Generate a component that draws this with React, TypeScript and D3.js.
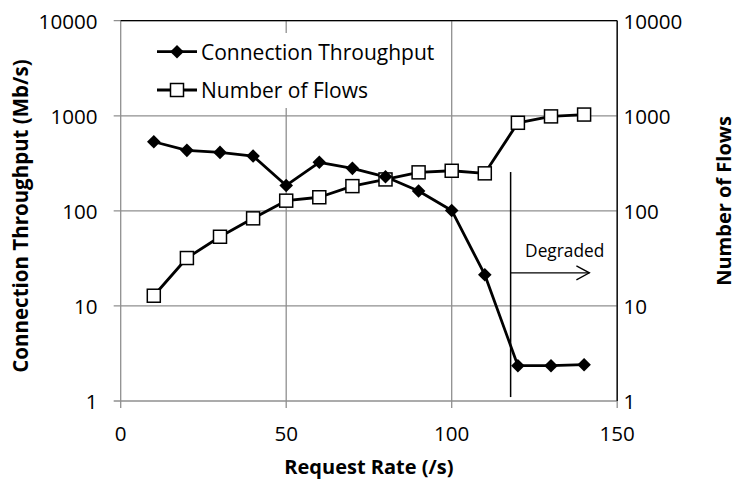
import React from "react";
import * as d3 from "d3";

const requestRate = [10, 20, 30, 40, 50, 60, 70, 80, 90, 100, 110, 120, 130, 140];
const throughput = [533, 433, 412, 377, 185, 324, 280, 228, 162, 101, 21.3, 2.35, 2.35, 2.41];
const numFlows = [12.8, 31.9, 53.4, 83.4, 128, 139, 182, 214, 254, 264, 248, 844, 985, 1030];
const xTicks = [0, 50, 100, 150];
const yTicks = [1, 10, 100, 1000, 10000];
const seriesNames = ["Connection Throughput", "Number of Flows"];
const degradedX = 117.8;
const degradedTop = 256;
const degradedBottom = 1.1;
const arrowEndX = 141.6;
const arrowY = 22.3;

const W = 732;
const H = 479;
const FONT = "'Open Sans', sans-serif";

export default function App() {
  const x = d3.scaleLinear().domain([0, 150]).range([120.7, 617.2]);
  const y = d3.scaleLog().domain([1, 10000]).range([401, 20.7]);
  const [x0, x1] = x.range();
  const [yb, yt] = y.range();

  const line = d3
    .line<number>()
    .x((_, i) => x(requestRate[i]))
    .y((d) => y(d));

  const diamond = (cx: number, cy: number, r = 6.8) =>
    `M${cx},${cy - r}L${cx + r},${cy}L${cx},${cy + r}L${cx - r},${cy}Z`;
  const sq = 13;

  const grid = "#8f8f8f";
  const ax = x(degradedX);
  const ay = y(arrowY);
  const ae = x(arrowEndX);

  return (
    <svg
      width={W}
      height={H}
      style={{ position: "absolute", left: 0, top: 0, background: "#fff" }}
      fontFamily={FONT}
    >
      <rect width={W} height={H} fill="#fff" />
      {/* horizontal gridlines */}
      {yTicks.map((t) => (
        <line key={"h" + t} x1={x0 - 7} x2={x1} y1={y(t)} y2={y(t)} stroke={grid} strokeWidth={1.3} />
      ))}
      {/* vertical gridlines with bottom ticks */}
      {xTicks.map((t) => (
        <line key={"v" + t} x1={x(t)} x2={x(t)} y1={yt} y2={yb + 7} stroke={grid} strokeWidth={1.3} />
      ))}
      {/* top and right axis lines */}
      <line x1={x0} x2={x1} y1={yt} y2={yt} stroke="#000" strokeWidth={1.3} />
      <line x1={x1} x2={x1} y1={yt} y2={yb} stroke="#000" strokeWidth={1.3} />

      {/* left tick labels */}
      {yTicks.map((t) => (
        <text key={"ll" + t} x={97.5} y={y(t)} textAnchor="end" dominantBaseline="central" fontSize={20.6} fill="#000">
          {t}
        </text>
      ))}
      {/* right tick labels */}
      {yTicks.map((t) => (
        <text key={"rl" + t} x={623.5} y={y(t)} textAnchor="start" dominantBaseline="central" fontSize={20.6} fill="#000">
          {t}
        </text>
      ))}
      {/* x tick labels */}
      {xTicks.map((t) => (
        <text key={"xl" + t} x={x(t)} y={433} textAnchor="middle" dominantBaseline="central" fontSize={20.6} fill="#000">
          {t}
        </text>
      ))}

      {/* axis titles */}
      <text x={(x0 + x1) / 2} y={474} textAnchor="middle" fontSize={20} fontWeight="bold" fill="#000">
        Request Rate (/s)
      </text>
      <text
        transform={`translate(28,216) rotate(-90)`}
        textAnchor="middle"
        fontSize={20.5}
        fontWeight="bold"
        fill="#000"
      >
        Connection Throughput (Mb/s)
      </text>
      <text
        transform={`translate(731,201) rotate(-90)`}
        textAnchor="middle"
        fontSize={20}
        fontWeight="bold"
        fill="#000"
      >
        Number of Flows
      </text>

      {/* degraded annotation */}
      <line x1={ax} x2={ax} y1={y(degradedTop)} y2={y(degradedBottom)} stroke="#000" strokeWidth={1.5} />
      <line x1={ax} x2={ae} y1={ay} y2={ay} stroke="#000" strokeWidth={1.3} />
      <path d={`M${ae - 13},${ay - 7}L${ae},${ay}L${ae - 13},${ay + 7}`} fill="none" stroke="#000" strokeWidth={1.3} />
      <text x={ax + 14.5} y={ay - 16} textAnchor="start" fontSize={17.3} fill="#000">
        Degraded
      </text>

      {/* legend */}
      <rect x={150} y={33} width={290} height={75} fill="#fff" />
      <line x1={157} x2={197} y1={51.7} y2={51.7} stroke="#000" strokeWidth={2.8} />
      <path d={diamond(177, 51.7)} fill="#000" />
      <text x={201} y={51.7} dominantBaseline="central" fontSize={21} fill="#000">
        {seriesNames[0]}
      </text>
      <line x1={157} x2={197} y1={90} y2={90} stroke="#000" strokeWidth={2.8} />
      <rect x={177 - sq / 2} y={90 - sq / 2} width={sq} height={sq} fill="#fff" stroke="#000" strokeWidth={1.5} />
      <text x={201} y={90} dominantBaseline="central" fontSize={21} fill="#000">
        {seriesNames[1]}
      </text>

      {/* series lines */}
      <path d={line(numFlows) || ""} fill="none" stroke="#000" strokeWidth={2.8} strokeLinejoin="round" />
      <path d={line(throughput) || ""} fill="none" stroke="#000" strokeWidth={2.8} strokeLinejoin="round" />
      {/* markers */}
      {numFlows.map((v, i) => (
        <rect
          key={"s" + i}
          x={x(requestRate[i]) - sq / 2}
          y={y(v) - sq / 2}
          width={sq}
          height={sq}
          fill="#fff"
          stroke="#000"
          strokeWidth={1.5}
        />
      ))}
      {throughput.map((v, i) => (
        <path key={"d" + i} d={diamond(x(requestRate[i]), y(v))} fill="#000" />
      ))}
    </svg>
  );
}
